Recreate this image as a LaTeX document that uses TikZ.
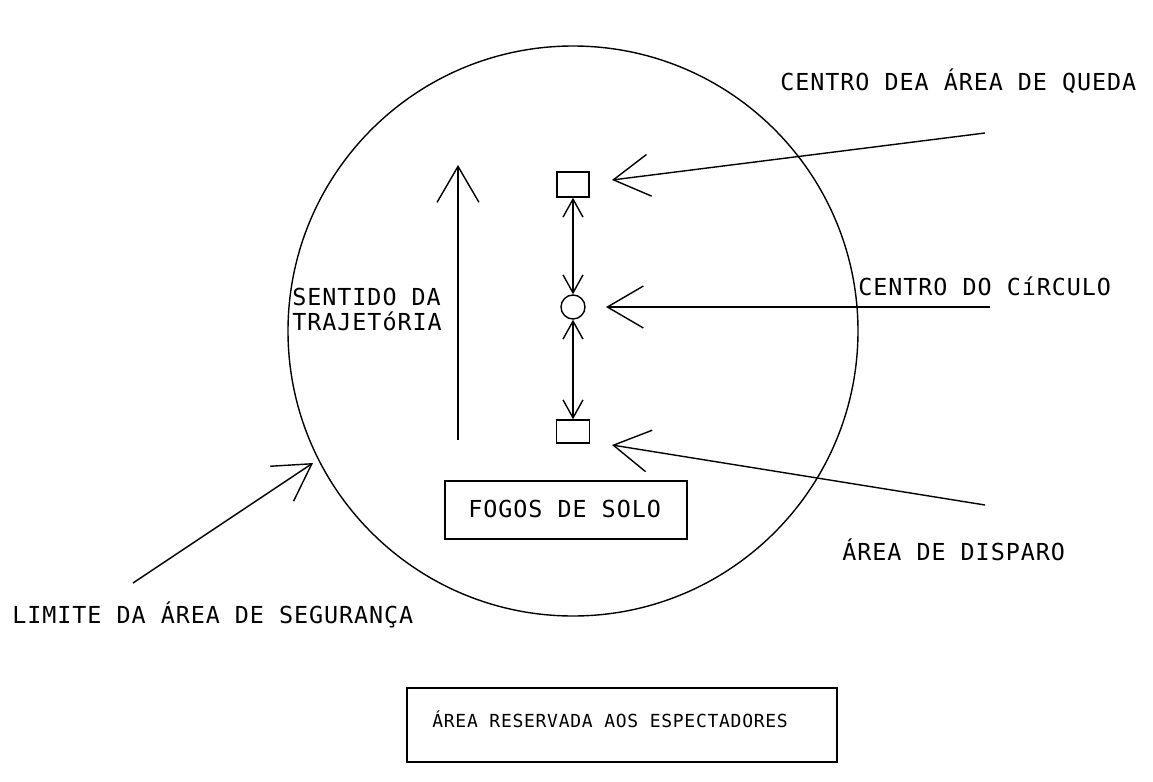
\documentclass[tikz,border=0pt]{standalone}
\usepackage{fontspec}
\setmonofont[LetterSpace=4]{DejaVu Sans Mono}
\usetikzlibrary{arrows.meta}
\tikzset{
  cad/.style={line width=0.7pt, draw=black},
  bigbarb/.style={-{Straight Barb[length=18pt, width=21pt, line width=0.7pt]}},
  smallbarb/.style={{Straight Barb[length=9pt, width=10pt, line width=0.7pt]}-{Straight Barb[length=9pt, width=10pt, line width=0.7pt]}},
  label/.style={anchor=base west, inner sep=0pt, font=\ttfamily\fontsize{11.7}{12.5}\selectfont}
}
\begin{document}
\begin{tikzpicture}[x=0.5pt, y=-0.5pt]
\useasboundingbox (0,0) rectangle (1153,782);
% limite da area de seguranca
\draw [cad] (573,331) circle [radius=142.5pt];
% centros e area de disparo
\node [cad, draw, minimum width=16pt, minimum height=12.5pt, inner sep=0pt] (queda) at (573,184.5) {};
\node [cad, draw, circle, minimum size=12pt, inner sep=0pt] (centro) at (573,307) {};
\node [cad, draw, minimum width=16.5pt, minimum height=11.5pt, inner sep=0pt] (disparo) at (573,431.5) {};
\draw [cad, smallbarb] (queda.south) -- (centro.north);
\draw [cad, smallbarb] (centro.south) -- (disparo.north);
% caixas
\node [cad, draw, minimum width=121pt, minimum height=29pt, inner sep=0pt] (fogos) at (566,510) {};
\node [label] (fogostxt) at (468,517) {FOGOS DE SOLO};
\node [cad, draw, minimum width=215pt, minimum height=37pt, inner sep=0pt] (publico) at (622,725) {};
\node [label, font=\ttfamily\fontsize{9}{11}\selectfont] (publicotxt) at (432,727) {ÁREA RESERVADA AOS ESPECTADORES};
% textos
\node [label] (tqueda) at (780,90) {CENTRO DEA ÁREA DE QUEDA};
\node [label] (tcentro) at (858,295) {CENTRO DO CíRCULO};
\node [label] (tdisparo) at (842,560) {ÁREA DE DISPARO};
\node [label] (tlimite) at (12,623) {LIMITE DA ÁREA DE SEGURANÇA};
\node [label] (tsentido) at (292,305) {SENTIDO DA};
\node [label] (ttraj) at (292,330) {TRAJETóRIA};
% setas
\coordinate (aq) at (985,133);
\coordinate (bq) at (612,180);
\coordinate (ac) at (990,307);
\coordinate (bc) at (606,307);
\coordinate (ad) at (985,505);
\coordinate (bd) at (612,445);
\coordinate (al) at (133,583);
\coordinate (bl) at (313,463);
\coordinate (as) at (458,440);
\coordinate (bs) at (458,165);
\draw [cad, bigbarb] (aq) -- (bq);
\draw [cad, bigbarb] (ac) -- (bc);
\draw [cad, bigbarb] (ad) -- (bd);
\draw [cad, bigbarb] (al) -- (bl);
\draw [cad, bigbarb] (as) -- (bs);
\end{tikzpicture}
\end{document}
